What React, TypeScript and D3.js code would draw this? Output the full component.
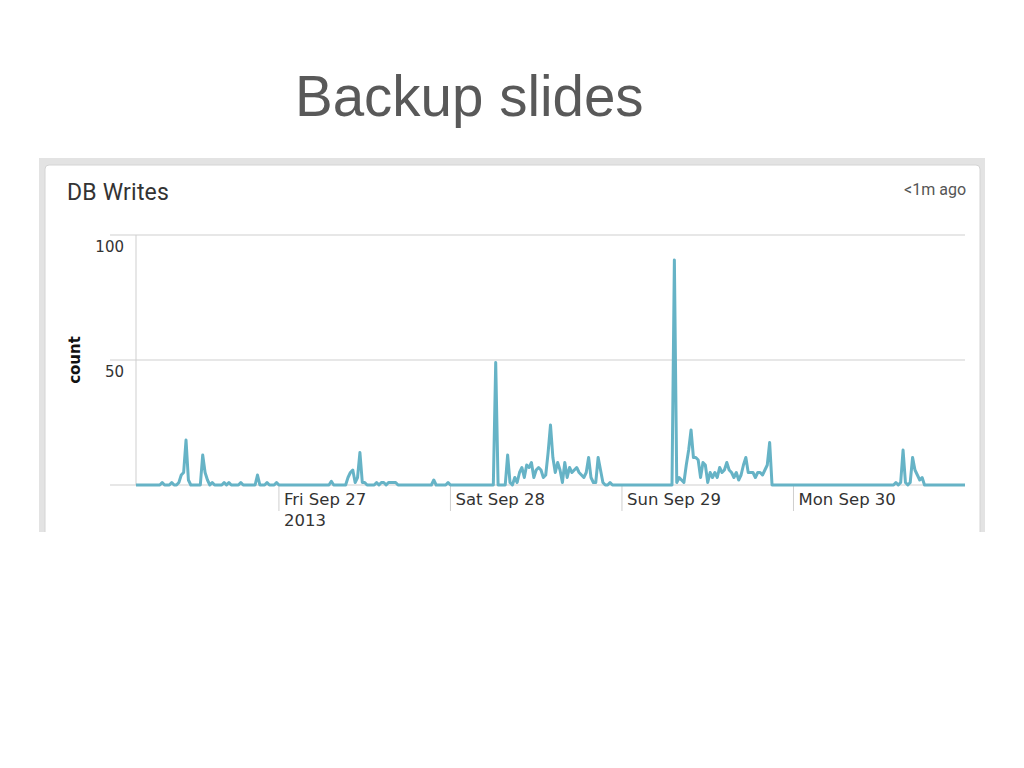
import React from 'react';
import * as d3 from 'd3';

// DB Writes, 20-minute buckets, one array per day (Thu starts at 04:00)
const thuValues = [0,0,0,0,0,0,0,0,0,0,0, 1,0,0,0, 1,0,0, 1,4,5,18,2, 0,0,0,0,0, 12,5,2,0, 1,0,0,0,0, 1,0,1, 0,0,0,0, 1, 0,0,0,0,0,0, 4, 0,0,0, 1, 0,0,0, 1];
const friValues = [0,0,0,0,0,0,0,0,0,0,0,0,0,0,0,0,0,0,0,0,0,0, 1.5, 0,0,0,0,0,0, 3,5,6,1,3,13,1,1, 0,0,0,0, 1,0,1,1,0,1,1,1,1, 0,0,0,0,0,0,0,0,0,0,0,0,0,0,0, 2, 0,0,0,0,0, 1];
const satValues = [0,0,0,0,0,0,0,0,0,0,0,0,0,0,0,0,0,0,0, 49, 0,0,0,0, 12,1,0,3,1,5,7,3,8,7,9,3,6,7,6,3,4,13,24,11,5,9,6,1,9,3,7,5,6,7,5,4,3,5,11,3,1,1,11,6,1,0,0,1, 0,0,0,0];
const sunValues = [0,0,0,0,0,0,0,0,0,0,0,0,0,0,0,0,0,0,0,0,0,0, 90,1,3,2,1,8,14,22,11,11,10,3,9,8,1,5,3,5,3,7,5,6,9,6,5,3,5,2,4,8,11,5,5,5,3,5,5,4,6,8,17, 0,0,0,0,0,0,0,0,0];
const monValues = [0,0,0,0,0,0,0,0,0,0,0,0,0,0,0,0,0,0,0,0,0,0,0,0,0,0,0,0,0,0,0,0,0,0,0,0,0,0,0,0,0,0,0, 1,0,1,14,1,0,1,11,6,4,2,3, 0,0,0,0,0,0,0,0,0,0,0,0,0,0,0,0,0, 0];

const dayStarts = [
  new Date(2013, 8, 26, 4, 0),
  new Date(2013, 8, 27, 0, 0),
  new Date(2013, 8, 28, 0, 0),
  new Date(2013, 8, 29, 0, 0),
  new Date(2013, 8, 30, 0, 0),
];
const dayValues = [thuValues, friValues, satValues, sunValues, monValues];

const domainStart = new Date(2013, 8, 26, 4, 0);
const domainEnd = new Date(2013, 9, 1, 0, 0);
const yTicks = [0, 50, 100];
const yLabelTicks = [50, 100];

type Pt = { t: Date; v: number };

export default function App() {
  const x = d3.scaleTime().domain([domainStart, domainEnd]).range([136, 965]);
  const y = d3.scaleLinear().domain([0, 100]).range([485, 235]);

  const points: Pt[] = [];
  dayValues.forEach((vals, d) => {
    vals.forEach((v, i) => {
      points.push({ t: d3.timeMinute.offset(dayStarts[d], 20 * i), v });
    });
  });

  const line = d3
    .line<Pt>()
    .x((p) => x(p.t))
    .y((p) => y(p.v));

  const xTicks = d3.timeDay.range(new Date(2013, 8, 27), domainEnd);
  const fmt = d3.timeFormat('%a %b %d');
  const tickFont = "'DejaVu Sans', sans-serif";

  return (
    <svg
      width={1024}
      height={768}
      style={{ position: 'absolute', left: 0, top: 0, display: 'block', background: '#fff' }}
    >
      <defs>
        <clipPath id="panelClip">
          <rect x={0} y={0} width={1024} height={532} />
        </clipPath>
      </defs>
      <text
        x={295}
        y={116}
        fontFamily="'Liberation Sans', Arial, sans-serif"
        fontSize={56.5}
        fill="#595959"
      >
        Backup slides
      </text>

      <g clipPath="url(#panelClip)">
        <rect x={39} y={158} width={946} height={380} fill="#e3e3e3" />
        <rect x={45} y={165} width={935} height={390} rx={4} fill="#fff" stroke="#d4d4d4" />
      </g>

      <text x={67} y={200} fontFamily="Roboto, sans-serif" fontSize={23} fill="#333" letterSpacing={0.2}>
        DB Writes
      </text>
      <text x={966} y={195} textAnchor="end" fontFamily="Roboto, sans-serif" fontSize={16} fill="#555">
        &lt;1m ago
      </text>

      {/* gridlines */}
      {yTicks.map((t) => (
        <line key={'g' + t} x1={110} x2={965} y1={y(t)} y2={y(t)} stroke="#cfcfcf" strokeWidth={1} />
      ))}
      <line x1={136} x2={136} y1={y(100)} y2={y(0)} stroke="#cfcfcf" strokeWidth={1} />
      {yLabelTicks.map((t) => (
        <text
          key={'yl' + t}
          x={124}
          y={y(t) + 17}
          textAnchor="end"
          fontFamily={tickFont}
          fontSize={15}
          fill="#333"
        >
          {t}
        </text>
      ))}
      <text
        transform="translate(80,360) rotate(-90)"
        textAnchor="middle"
        fontFamily={tickFont}
        fontWeight="bold"
        fontSize={15}
        fill="#111"
      >
        count
      </text>

      {xTicks.map((d, i) => (
        <g key={'xt' + i}>
          <line x1={x(d)} x2={x(d)} y1={485} y2={511} stroke="#cfcfcf" strokeWidth={1} />
          <text x={x(d) + 5} y={505} fontFamily={tickFont} fontSize={16.5} fill="#333">
            {fmt(d)}
          </text>
          {i === 0 && (
            <text x={x(d) + 5} y={526} fontFamily={tickFont} fontSize={16.5} fill="#333">
              {d3.timeFormat('%Y')(d)}
            </text>
          )}
        </g>
      ))}

      <path
        d={line(points) || ''}
        fill="none"
        stroke="#66b3c6"
        strokeWidth={3}
        strokeLinejoin="round"
      />
    </svg>
  );
}
